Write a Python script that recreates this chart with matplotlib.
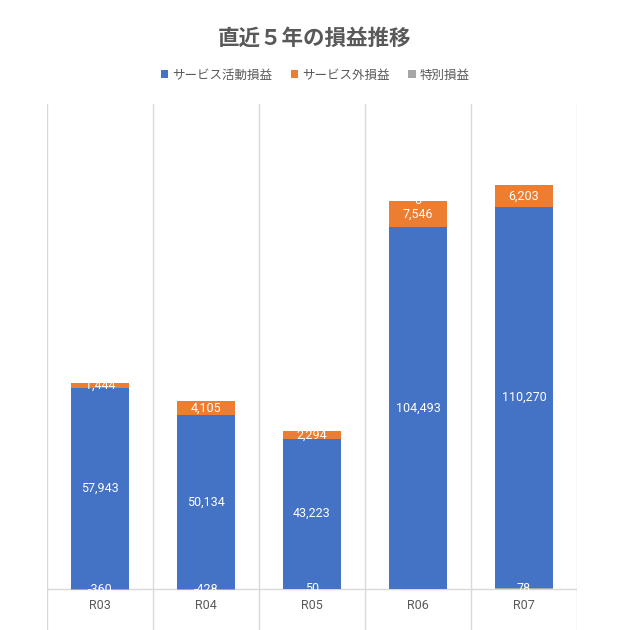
"""Stacked bar chart: profit/loss breakdown over the last five years."""
import matplotlib
matplotlib.use("Agg")
import matplotlib.pyplot as plt
import numpy as np

plt.rcParams["font.family"] = ["Noto Sans CJK JP", "DejaVu Sans"]

years = ["R03", "R04", "R05", "R06", "R07"]
service = [57943, 50134, 43223, 104493, 110270]
outside = [1444, 4105, 2294, 7546, 6203]
special = [-360, -428, 50, 0, 78]
series_names = ["サービス活動損益", "サービス外損益", "特別損益"]

BLUE = "#4472C4"
ORANGE = "#ED7D31"
GRAY = "#A5A5A5"
TEXT = "#595959"
GRID = "#D9D9D9"


def main():
    x = np.arange(len(years))
    svc = np.array(service)
    out = np.array(outside)
    spc = np.array(special)

    fig = plt.figure(figsize=(6.3, 6.3), dpi=100)
    # plot area runs past the bottom edge, as in the cropped original
    ax = fig.add_axes([47 / 630, -28 / 630, 530 / 630, 554 / 630])

    width = 0.55
    gray_bottom = np.where(spc == 0, svc + out, 0)
    blue_bottom = np.clip(spc, 0, None)
    b1 = ax.bar(x, svc, width, bottom=blue_bottom, color=BLUE, label=series_names[0], zorder=3)
    b2 = ax.bar(x, out, width, bottom=blue_bottom + svc, color=ORANGE, label=series_names[1], zorder=3)
    b3 = ax.bar(x, spc, width, bottom=gray_bottom, color=GRAY, label=series_names[2], zorder=3)

    for cont in (b1, b2, b3):
        ax.bar_label(cont, labels=[f"{v:,.0f}" for v in cont.datavalues], label_type="center",
                     color="white", fontsize=9, family=["Roboto", "DejaVu Sans"], zorder=5)

    ax.set_xlim(-0.5, len(years) - 0.5)
    ax.set_ylim(-20000, 140000)
    for xb in np.arange(-0.5, len(years), 1.0):
        ax.axvline(xb, color=GRID, lw=1, zorder=1)
    ax.axhline(0, color=GRID, lw=1, zorder=2)

    for s in ax.spines.values():
        s.set_visible(False)
    ax.set_xticks([])
    ax.set_yticks([])
    for xi, lab in zip(x, years):
        ax.annotate(lab, (xi, 0), xytext=(0, -17), textcoords="offset pixels",
                    ha="center", va="center", color=TEXT, fontsize=9,
                    family=["Roboto", "DejaVu Sans"])

    fig.text(0.5, 1 - 38 / 630, "直近５年の損益推移", ha="center", va="center",
             fontsize=15.5, fontweight="bold", color=TEXT)
    leg = fig.legend(handles=[b1, b2, b3], loc="center", bbox_to_anchor=(0.5, 1 - 75 / 630),
                     ncol=3, frameon=False, fontsize=9, handlelength=0.6, handleheight=0.6,
                     handletextpad=0.3, columnspacing=1.5)
    for t in leg.get_texts():
        t.set_color(TEXT)

    fig.savefig("out.png", dpi=100)
    plt.close(fig)


if __name__ == "__main__":
    main()
